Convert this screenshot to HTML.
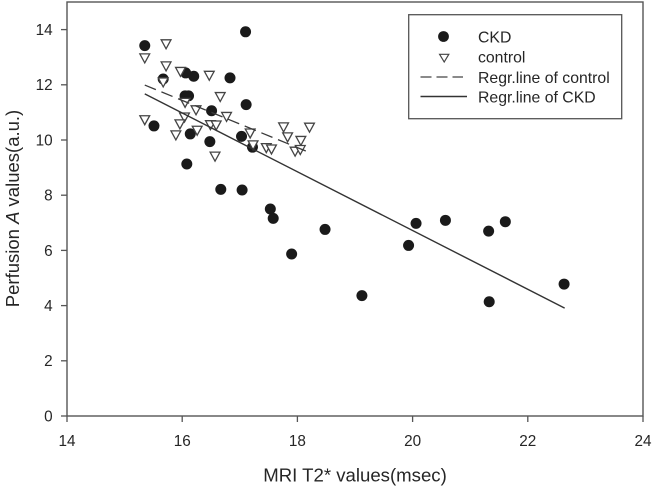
<!DOCTYPE html>
<html>
<head>
<meta charset="utf-8">
<style>
html,body{margin:0;padding:0;background:#fff;}
svg{display:block;filter:blur(0.35px);}
text{font-family:"Liberation Sans",sans-serif;fill:#262626;}
</style>
</head>
<body>
<svg id="chart" width="652" height="488" viewBox="0 0 652 488" xmlns="http://www.w3.org/2000/svg">
<rect x="0" y="0" width="652" height="488" fill="#fff"/>
<g id="marks"></g>
<g id="axes"></g>
<g>
<rect x="408.7" y="14.7" width="213" height="104" fill="#fff" stroke="#555" stroke-width="1.3"/>
<circle cx="443.5" cy="36.5" r="5.4" fill="#1a1a1a"/>
<path d="M439.6 54.3H448.8L444.2 62Z" fill="#fff" stroke="#444" stroke-width="1.2"/>
<line x1="420.5" y1="77" x2="463" y2="77" stroke="#444" stroke-width="1.3" stroke-dasharray="11 5"/>
<line x1="420.5" y1="96.5" x2="467" y2="96.5" stroke="#333" stroke-width="1.4"/>
<text x="478" y="42.7" font-size="15.8">CKD</text>
<text x="478" y="62.7" font-size="15.8">control</text>
<text x="478" y="83" font-size="15.8">Regr.line of control</text>
<text x="478" y="102.7" font-size="15.8">Regr.line of CKD</text>
</g>
<text x="355" y="481.5" font-size="18.6" text-anchor="middle">MRI T2* values(msec)</text>
<text transform="translate(19,208.5) rotate(-90)" font-size="18.5" text-anchor="middle">Perfusion <tspan font-style="italic">A</tspan> values(a.u.)</text>
</svg>
<script>
var xTicks = [14, 16, 18, 20, 22, 24];
var yTicks = [0, 2, 4, 6, 8, 10, 12, 14];
var ckdX = [17.10,15.35,15.67,16.06,16.20,16.83,16.05,16.11,17.11,16.51,15.51,16.14,16.48,17.03,17.22,16.08,16.67,17.04,17.53,17.58,18.48,17.90,19.12,19.93,20.06,20.57,21.32,21.61,22.63,21.33];
var ckdY = [13.92,13.42,12.21,12.43,12.31,12.25,11.60,11.60,11.28,11.06,10.51,10.22,9.94,10.13,9.74,9.13,8.21,8.19,7.50,7.16,6.76,5.87,4.36,6.18,6.98,7.09,6.70,7.04,4.78,4.14];
var controlX = [15.72,15.35,15.72,15.97,16.47,15.67,16.66,16.05,16.24,16.77,16.04,15.35,15.96,16.26,16.49,16.59,15.89,17.18,17.23,17.46,17.55,17.76,17.83,18.21,18.06,17.96,18.05,16.57];
var controlY = [13.47,12.96,12.67,12.47,12.33,12.09,11.56,11.35,11.08,10.84,10.82,10.72,10.57,10.34,10.54,10.53,10.17,10.24,9.81,9.71,9.66,10.46,10.10,10.45,9.97,9.58,9.64,9.40];
var ckdLineX = [15.35, 22.64];
var ckdLineY = [11.67, 3.91];
var controlLineX = [15.35, 18.17];
var controlLineY = [11.99, 9.58];

function sx(v){ return 67 + (v - 14) * 57.6; }
function sy(v){ return 416 - v * 27.6; }

var NS = 'http://www.w3.org/2000/svg';
var marks = document.getElementById('marks');
var axes = document.getElementById('axes');
function mk(tag, attrs, parent){
  var el = document.createElementNS(NS, tag);
  for (var k in attrs) el.setAttribute(k, attrs[k]);
  parent.appendChild(el);
  return el;
}

ckdX.forEach(function(x, i){
  var c = mk('circle', {cx: sx(x), cy: sy(ckdY[i]), r: 5.5, fill: '#1a1a1a'}, marks);
  
  
});
controlX.forEach(function(x, i){
  var px = sx(x), py = sy(controlY[i]);
  var t = mk('path', {d: 'M' + (px - 4.9) + ' ' + (py - 4.4) + 'H' + (px + 4.9) + 'L' + px + ' ' + (py + 4.6) + 'Z', fill: '#fff', stroke: '#444', 'stroke-width': 1.3}, marks);
  
  
});
var l1 = mk('line', {x1: sx(controlLineX[0]), y1: sy(controlLineY[0]), x2: sx(controlLineX[1]), y2: sy(controlLineY[1]), stroke: '#3a3a3a', 'stroke-width': 1.3, 'stroke-dasharray': '12 6'}, marks);


var l2 = mk('line', {x1: sx(ckdLineX[0]), y1: sy(ckdLineY[0]), x2: sx(ckdLineX[1]), y2: sy(ckdLineY[1]), stroke: '#333', 'stroke-width': 1.4}, marks);



var frame = mk('rect', {x: sx(14), y: sy(15), width: sx(24) - sx(14), height: sy(0) - sy(15), fill: 'none', stroke: '#555', 'stroke-width': 1.4}, axes);



xTicks.forEach(function(v){
  var t = mk('line', {x1: sx(v), x2: sx(v), y1: sy(0), y2: sy(0) + 6, stroke: '#555', 'stroke-width': 1.3}, axes);
  
  
  var lb = mk('text', {x: sx(v), y: 445.8, 'font-size': 15.3, 'text-anchor': 'middle'}, axes);
  
  
  lb.textContent = v;
});
yTicks.forEach(function(v){
  var t = mk('line', {x1: sx(14) - 6, x2: sx(14), y1: sy(v), y2: sy(v), stroke: '#555', 'stroke-width': 1.3}, axes);
  
  
  var lb = mk('text', {x: 52.7, y: sy(v) + 5.4, 'font-size': 15.3, 'text-anchor': 'end'}, axes);
  
  
  lb.textContent = v;
});
</script>
</body>
</html>
